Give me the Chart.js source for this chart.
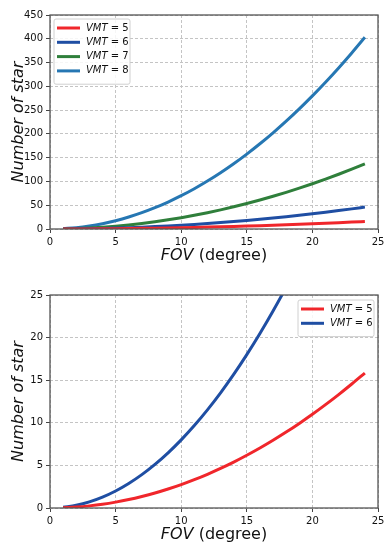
<!DOCTYPE html>
<html>
<head>
<meta charset="utf-8">
<script src="https://cdn.jsdelivr.net/npm/chart.js@4"></script>
<style>
  html, body { margin: 0; padding: 0; background: #fff; }
  .wrap { position: relative; width: 392px; }
  canvas { display: block; }
</style>
</head>
<body>
<div class="wrap" style="height:270px"><canvas id="top"></canvas></div>
<div class="wrap" style="height:280px"><canvas id="bottom"></canvas></div>
<script>
// FOV in degrees
const fov = [1, 2, 3, 4, 5, 6, 7, 8, 9, 10, 11, 12, 13, 14, 15, 16, 17, 18, 19, 20, 21, 22, 23, 24];

// number of stars
const vmt5 = [0.03, 0.11, 0.25, 0.44, 0.69, 0.99, 1.35, 1.76, 2.23, 2.75, 3.33, 3.96, 4.65, 5.39, 6.19, 7.04, 7.95, 8.91, 9.93, 11.0, 12.13, 13.31, 14.55, 15.84];
const vmt6 = [0.08, 0.32, 0.72, 1.28, 2.0, 2.88, 3.92, 5.12, 6.48, 8.0, 9.68, 11.52, 13.52, 15.68, 18.0, 20.48, 23.12, 25.92, 28.88, 32.0, 35.28, 38.72, 42.32, 46.08];
const vmt7 = [0.24, 0.95, 2.14, 3.8, 5.95, 8.57, 11.66, 15.23, 19.28, 23.8, 28.8, 34.27, 40.22, 46.65, 53.55, 60.93, 68.78, 77.11, 85.92, 95.2, 104.96, 115.19, 125.9, 137.09];
const vmt8 = [0.7, 2.8, 6.3, 11.2, 17.5, 25.2, 34.3, 44.8, 56.7, 70.0, 84.7, 100.8, 118.3, 137.2, 157.5, 179.2, 202.3, 226.8, 252.7, 280.0, 308.7, 338.8, 370.3, 403.2];

const labels = ['5', '6', '7', '8'];
const colors = ['#f0262b', '#1f4ea3', '#2f7f3b', '#2677b3'];

const FONT = 'DejaVu Sans';
Chart.defaults.font.family = FONT;
Chart.defaults.color = '#111';

const toPoints = (ys) => ys.map((y, i) => ({ x: fov[i], y: y }));

const makeSet = (ys, i) => ({
  label: labels[i],
  data: toPoints(ys),
  borderColor: colors[i],
  backgroundColor: colors[i],
  borderWidth: 3,
  pointRadius: 0,
  cubicInterpolationMode: 'monotone',
});

// box, axis titles and matplotlib-like legend
const decor = {
  id: 'decor',
  afterDraw(chart, args, opts) {
    const { ctx, chartArea: a } = chart;
    ctx.save();
    ctx.strokeStyle = '#555';
    ctx.lineWidth = 1.3;
    ctx.strokeRect(a.left, a.top, a.right - a.left, a.bottom - a.top);

    // x title
    ctx.fillStyle = '#111';
    ctx.textBaseline = 'middle';
    ctx.font = 'italic 16px ' + FONT;
    const p1 = 'FOV';
    ctx.font = '16px ' + FONT;
    const p2 = ' (degree)';
    const w2 = ctx.measureText(p2).width;
    ctx.font = 'italic 16px ' + FONT;
    const w1 = ctx.measureText(p1).width;
    let x0 = (a.left + a.right) / 2 - (w1 + w2) / 2;
    ctx.textAlign = 'left';
    ctx.fillText(p1, x0, opts.xTitleY);
    ctx.font = '16px ' + FONT;
    ctx.fillText(p2, x0 + w1, opts.xTitleY);

    // y title
    ctx.save();
    ctx.translate(19, (a.top + a.bottom) / 2);
    ctx.rotate(-Math.PI / 2);
    ctx.textAlign = 'center';
    ctx.font = 'italic 16px ' + FONT;
    ctx.fillText('Number of star', 0, 0);
    ctx.restore();

    // legend
    const L = opts.legend;
    const n = chart.data.datasets.length;
    const bw = 76, bh = 8 + n * 14.3;
    ctx.beginPath();
    ctx.roundRect(L.x, L.y, bw, bh, 2);
    ctx.fillStyle = 'rgba(255,255,255,0.85)';
    ctx.fill();
    ctx.strokeStyle = '#d0d0d0';
    ctx.lineWidth = 1;
    ctx.stroke();
    chart.data.datasets.forEach((ds, i) => {
      const y = L.y + 9 + i * 14.3;
      ctx.strokeStyle = ds.borderColor;
      ctx.lineWidth = 3;
      ctx.beginPath();
      ctx.moveTo(L.x + 3, y);
      ctx.lineTo(L.x + 26, y);
      ctx.stroke();
      ctx.fillStyle = '#111';
      ctx.textAlign = 'left';
      ctx.font = 'italic 10px ' + FONT;
      ctx.fillText('VMT', L.x + 32, y);
      const wv = ctx.measureText('VMT').width;
      ctx.font = '10px ' + FONT;
      ctx.fillText(' = ' + ds.label, L.x + 32 + wv, y);
    });
    ctx.restore();
  },
};

const makeOptions = (ymax, ystep, pad, xAxisH, decorOpts) => ({
  responsive: true,
  maintainAspectRatio: false,
  animation: false,
  layout: { padding: pad },
  plugins: { legend: { display: false }, tooltip: { enabled: false }, decor: decorOpts },
  scales: {
    x: {
      type: 'linear',
      min: 0,
      max: 25,
      ticks: { stepSize: 5, font: { size: 10 }, padding: 3, color: '#111' },
      grid: { color: '#c4c4c4', tickColor: '#444', tickLength: 4, lineWidth: 1 },
      border: { display: false, dash: [3, 2] },
      afterFit: (s) => { s.height = xAxisH; },
    },
    y: {
      min: 0,
      max: ymax,
      ticks: { stepSize: ystep, font: { size: 10 }, padding: 3, color: '#111' },
      grid: { color: '#c4c4c4', tickColor: '#444', tickLength: 4, lineWidth: 1 },
      border: { display: false, dash: [3, 2] },
      afterFit: (s) => { s.width = 50; },
    },
  },
});

new Chart(document.getElementById('top'), {
  type: 'line',
  data: { datasets: [vmt5, vmt6, vmt7, vmt8].map(makeSet) },
  options: makeOptions(450, 50, { left: 0, top: 15, right: 14, bottom: 0 }, 41,
    { xTitleY: 256, legend: { x: 54, y: 19 } }),
  plugins: [decor],
});

new Chart(document.getElementById('bottom'), {
  type: 'line',
  data: { datasets: [vmt5, vmt6].map(makeSet) },
  options: makeOptions(25, 5, { left: 0, top: 25, right: 14, bottom: 0 }, 42,
    { xTitleY: 265, legend: { x: 298, y: 30 } }),
  plugins: [decor],
});
</script>
</body>
</html>
